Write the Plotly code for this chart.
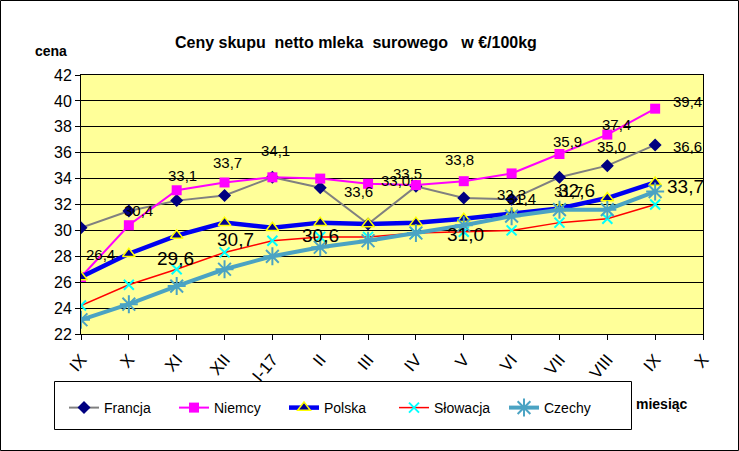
import plotly.graph_objects as go

# ---- data ----
months = ["IX", "X", "XI", "XII", "I-17", "II", "III", "IV", "V", "VI", "VII", "VIII", "IX", "X"]
francja = [30.2, 31.5, 32.3, 32.7, 34.1, 33.3, 30.5, 33.4, 32.5, 32.4, 34.1, 35.0, 36.6]
niemcy = [26.4, 30.4, 33.1, 33.7, 34.1, 34.0, 33.6, 33.5, 33.8, 34.4, 35.9, 37.4, 39.4]
polska = [26.4, 28.2, 29.6, 30.6, 30.2, 30.6, 30.5, 30.6, 30.9, 31.3, 31.7, 32.5, 33.7]
slowacja = [24.2, 25.8, 27.0, 28.3, 29.2, 29.5, 29.5, 29.8, 29.9, 30.0, 30.6, 30.9, 32.0]
czechy = [23.1, 24.3, 25.7, 27.0, 28.0, 28.7, 29.2, 29.8, 30.4, 31.1, 31.6, 31.6, 33.0]

# data-label texts (series, point index, text)
label_texts = [
    ("Niemcy", 0, "26,4"), ("Niemcy", 1, "30,4"), ("Niemcy", 2, "33,1"), ("Niemcy", 3, "33,7"),
    ("Niemcy", 4, "34,1"), ("Niemcy", 6, "33,6"), ("Niemcy", 7, "33,5"), ("Niemcy", 8, "33,8"),
    ("Niemcy", 10, "35,9"), ("Niemcy", 11, "37,4"), ("Niemcy", 12, "39,4"),
    ("Francja", 7, "33,0"), ("Francja", 9, "32,3"), ("Francja", 11, "35,0"), ("Francja", 12, "36,6"),
    ("Polska", 2, "29,6"), ("Polska", 3, "30,7"), ("Polska", 5, "30,6"), ("Polska", 8, "31,0"),
    ("Polska", 10, "32,6"), ("Polska", 12, "33,7"),
    ("Czechy", 9, "31,4"), ("Czechy", 10, "31,7"),
]
# label placement (pixel offsets dx, dy-down, font size) - style only
label_style = [
    (19, -23, 15), (10, -15, 15), (6, -15, 15), (3, -20, 15),
    (3, -27, 15), (-10, 8, 15), (-8, -12, 15), (-4, -22, 15),
    (8, -13, 15), (9, -10, 15), (32, -7, 15),
    (-20, -6, 15), (0, -5, 15), (4, -19, 15), (32, 2, 15),
    (-1, 23, 19), (11, 17, 19), (0, 13, 19), (2, 16, 19),
    (17, -18, 19), (30, 4, 19),
    (10, -18, 15), (9, -18, 15),
]

series = {"Francja": francja, "Niemcy": niemcy, "Polska": polska,
          "Słowacja": slowacja, "Czechy": czechy}

W, H = 739, 451
L, R, T, B = 81, 36, 75, 117
PW, PH = W - L - R, H - T - B


def px(x):
    return (x - L) / PW


def py(y):
    return (H - B - y) / PH


FONT = "Liberation Sans, Arial, sans-serif"
xs = list(range(len(francja)))

fig = go.Figure()
fig.add_trace(go.Scatter(x=xs, y=francja, name="Francja", mode="lines+markers",
                         line=dict(color="#808080", width=2),
                         marker=dict(symbol="diamond", size=10, color="#000080")))
fig.add_trace(go.Scatter(x=xs, y=niemcy, name="Niemcy", mode="lines+markers",
                         line=dict(color="#FF00FF", width=2),
                         marker=dict(symbol="square", size=10, color="#FF00FF")))
fig.add_trace(go.Scatter(x=xs, y=polska, name="Polska", mode="lines+markers",
                         line=dict(color="#0000F0", width=4.5),
                         marker=dict(symbol="triangle-up", size=11, color="#000090",
                                     line=dict(color="#FFFF00", width=1.5))))
fig.add_trace(go.Scatter(x=xs, y=slowacja, name="Słowacja", mode="lines+markers",
                         line=dict(color="#FF0000", width=1.5),
                         marker=dict(symbol="x-thin", size=10, color="#00FFFF",
                                     line=dict(color="#00FFFF", width=2))))
fig.add_trace(go.Scatter(x=xs, y=czechy, name="Czechy", mode="lines+markers",
                         line=dict(color="#4BA3C3", width=4),
                         marker=dict(symbol="asterisk-open", size=15, color="#4BA3C3",
                                     line=dict(color="#4BA3C3", width=2))))

annotations = []
for (s, i, txt), (dx, dy, fs) in zip(label_texts, label_style):
    annotations.append(dict(x=i, y=series[s][i], xref="x", yref="y", text=txt,
                            showarrow=False, xshift=dx, yshift=-dy,
                            font=dict(family=FONT, size=fs, color="#000000")))

annotations += [
    dict(x=px(356), y=py(32), xref="paper", yref="paper", showarrow=False,
         text="<b>Ceny skupu  netto mleka  surowego   w €/100kg</b>",
         font=dict(family=FONT, size=16, color="#000000")),
    dict(x=px(33), y=py(41), xref="paper", yref="paper", showarrow=False,
         text="<b>cena</b>", font=dict(family=FONT, size=14, color="#000000")),
    dict(x=px(690), y=py(414), xref="paper", yref="paper", showarrow=False,
         text="<b>miesiąc</b>", font=dict(family=FONT, size=14, color="#000000")),
]

shapes = [
    dict(type="rect", xref="paper", yref="paper", x0=px(0.5), x1=px(738.5),
         y0=py(450.5), y1=py(0.5), line=dict(color="#000000", width=1)),
    dict(type="rect", xref="paper", yref="paper", x0=px(54.5), x1=px(631.5),
         y0=py(429.5), y1=py(381.5), line=dict(color="#000000", width=1),
         fillcolor="rgba(0,0,0,0)", layer="above"),
]

fig.update_layout(
    width=W, height=H,
    margin=dict(l=L, r=R, t=T, b=B, autoexpand=False),
    paper_bgcolor="#FFFFFF", plot_bgcolor="#FFFF99",
    font=dict(family=FONT, color="#000000"),
    showlegend=True,
    legend=dict(orientation="h", xref="container", yref="container",
                x=64 / W, y=1 - 392 / H, xanchor="left", yanchor="top",
                bgcolor="rgba(0,0,0,0)", borderwidth=0, entrywidth=65,
                font=dict(family=FONT, size=14, color="#000000")),
    annotations=annotations, shapes=shapes,
)
fig.update_xaxes(range=[0, 13], tickmode="array", tickvals=list(range(len(months))),
                 ticktext=months, tickangle=-50, tickfont=dict(size=17, family=FONT),
                 ticks="outside", ticklen=5, tickcolor="#000000", ticklabelstandoff=3,
                 showline=True, linecolor="#000000", linewidth=1, mirror=True,
                 showgrid=False, zeroline=False, automargin=False)
fig.update_yaxes(range=[22, 42], dtick=2, tickfont=dict(size=16, family=FONT),
                 ticks="outside", ticklen=5, tickcolor="#000000",
                 showline=True, linecolor="#000000", linewidth=1, mirror=True,
                 showgrid=True, gridcolor="#000000", gridwidth=1, zeroline=False,
                 automargin=False)

fig.write_html("out.html", config={"displayModeBar": False},
               post_script="document.body.style.margin='0';document.body.style.overflow='hidden';")
